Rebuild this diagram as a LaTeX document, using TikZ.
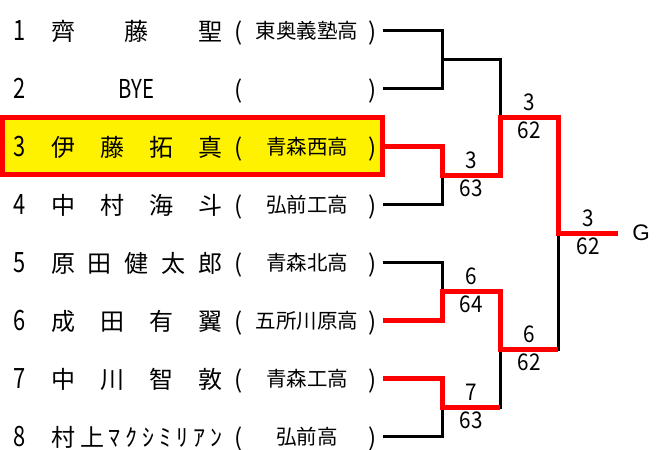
\documentclass[tikz,border=0pt]{standalone}
\usepackage{fontspec}
\setmainfont{Noto Sans CJK JP}
\newfontfamily\numfont[FakeStretch=0.78]{Noto Sans CJK JP}
\newfontfamily\scorefont[FakeStretch=0.9]{Noto Sans CJK JP}
\newfontfamily\goalfont{Liberation Sans}

% one line of the draw: number, name, (school)
\newcommand{\entry}[3]{%
  \makebox[38pt]{\numfont\fontsize{28}{30}\selectfont #1}\hspace{13pt}%
  \makebox[171pt][s]{\fontsize{24}{26}\selectfont #2}%
  \makebox[32pt]{\fontsize{24}{26}\selectfont (}%
  \makebox[106pt]{\fontsize{20.5}{22}\selectfont\raisebox{2pt}{#3}}%
  \makebox[24pt]{\fontsize{24}{26}\selectfont )}}

\tikzset{
  player/.style={anchor=base west, inner sep=0pt},
  lost/.style={draw=black, line width=3pt},
  won/.style={draw=red, line width=5pt},
  score/.style={anchor=base, inner sep=0pt, font=\scorefont\fontsize{23}{24}\selectfont}
}

\begin{document}
\begin{tikzpicture}[x=1pt, y=-1pt]
\useasboundingbox (0,0) rectangle (667,450);

\draw[red, fill=yellow, line width=5pt] (2.5,117.5) rectangle (382.5,174.5);

\node[player] (1) at (0,40)
{\entry{1}{齊\hfill 藤\hfill 聖}{東奥義塾高}};
\node[player] (2) at (0,98)
{\entry{2}{\hfill{\numfont\fontsize{26}{28}\selectfont BYE}\hfill}{}};
\node[player] (3) at (0,156)
{\entry{3}{伊\hfill 藤\hfill 拓\hfill 真}{青森西高}};
\node[player] (4) at (0,214)
{\entry{4}{中\hfill 村\hfill 海\hfill 斗}{弘前工高}};
\node[player] (5) at (0,272)
{\entry{5}{原\hfill 田\hfill 健\hfill 太\hfill 郎}{青森北高}};
\node[player] (6) at (0,330)
{\entry{6}{成\hfill 田\hfill 有\hfill 翼}{五所川原高}};
\node[player] (7) at (0,388)
{\entry{7}{中\hfill 川\hfill 智\hfill 敦}{青森工高}};
\node[player] (8) at (0,446)
{\entry{8}{村\hfill 上\hfill ﾏ\hfill ｸ\hfill ｼ\hfill ﾐ\hfill ﾘ\hfill ｱ\hfill ﾝ}{弘前高}};

% line ends and match points
\coordinate (r1) at (383,30);
\coordinate (r2) at (383,88);
\coordinate (r3) at (383,146);
\coordinate (r4) at (383,204);
\coordinate (r5) at (383,262);
\coordinate (r6) at (383,320);
\coordinate (r7) at (383,378);
\coordinate (r8) at (383,436);
\coordinate (m12) at (442,59);
\coordinate (m34) at (442,175);
\coordinate (m56) at (442,291);
\coordinate (m78) at (442,407);
\coordinate (s14) at (500,117);
\coordinate (s58) at (500,349);
\coordinate (fin) at (558,233);
\coordinate (goal) at (618,233);

\node[anchor=base, inner sep=0pt, font=\goalfont\fontsize{22.5}{24}\selectfont] (G) at (641,240) {G};

\draw[lost] (r1) -| (m12) |- (r2);
\draw[lost] (m12) -| (s14);
\draw[lost] (r4) -| (m34);
\draw[lost] (r5) -| (m56);
\draw[lost] (r8) -| (m78);
\draw[lost] (m78) -| (s58);
\draw[lost] (s58) -| (fin);

\draw[won] (r3) -| (m34) -| (s14) -| (fin) -- (goal);
\draw[won] (r6) -| (m56) -| (s58) -- (s58 -| fin);
\draw[won] (r7) -| (m78) -- (m78 -| s58);

\node[score] (w34) at (471,168) {3};
\node[score] (p34) at (471,196.5) {63};
\node[score] (w14) at (529,110) {3};
\node[score] (p14) at (529,138.5) {62};
\node[score] (wf) at (588,226) {3};
\node[score] (pf) at (588,254.5) {62};
\node[score] (w56) at (471,284) {6};
\node[score] (p56) at (471,312.5) {64};
\node[score] (w58) at (529,342) {6};
\node[score] (p58) at (529,370.5) {62};
\node[score] (w78) at (471,400) {7};
\node[score] (p78) at (471,428.5) {63};
\end{tikzpicture}
\end{document}
